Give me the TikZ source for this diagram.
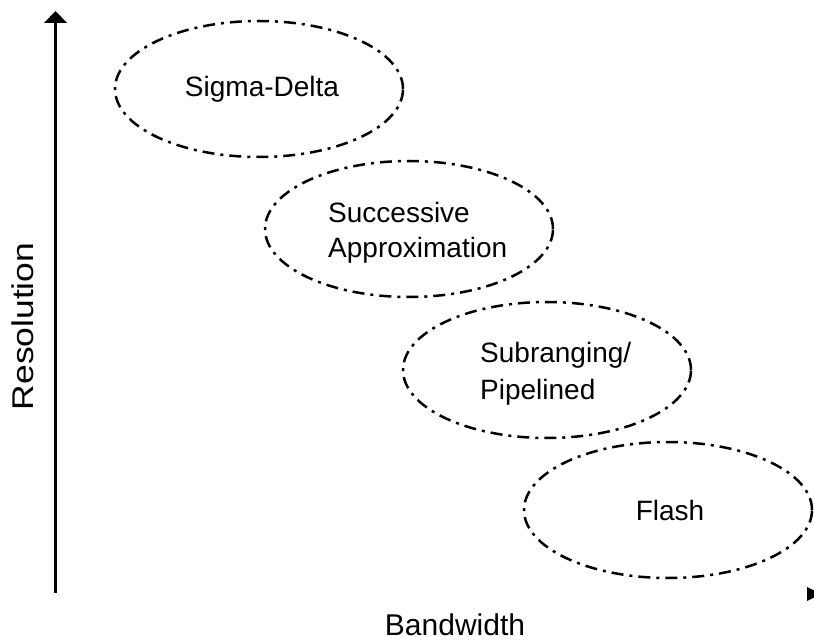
\documentclass[tikz,border=0pt]{standalone}
\usepackage{fontspec}
\setmainfont{Liberation Sans}
\usetikzlibrary{shapes.geometric,arrows.meta,calc}
\begin{document}
\begin{tikzpicture}[x=1pt,y=-1pt,
  adc/.style={ellipse, draw, line width=2.5pt,
    dash pattern=on 12pt off 6pt on 3pt off 6pt,
    minimum width=288pt, minimum height=136pt, inner sep=0pt},
  lbl/.style={font=\fontsize{28}{35}\selectfont, inner sep=0pt, align=left},
  axislbl/.style={font=\fontsize{30}{36}\selectfont, inner sep=0pt},
  axisline/.style={line width=3pt},
  axistip/.style={fill=black}]
\fill[white] (0,0) rectangle (814,644);
\useasboundingbox (0,0) rectangle (814,644);
\clip (0,0) rectangle (814,644);

% vertical axis with its flat triangular head
\coordinate (origin) at (55.5,593);
\coordinate (ytop) at (55.5,11);
\coordinate (ybase) at (55.5,23);
\draw[axisline] (origin) -- (ybase);
\fill[axistip] (ytop) -- ($(ybase)+(11.5,0)$) -- ($(ybase)+(-11.5,0)$) -- cycle;
% head of the horizontal axis at the right edge
\coordinate (xend) at (807,594);
\fill[axistip] (xend) ++(0,-7) -- ++(0,14) -- ++(14,-7) -- cycle;

\node[axislbl, rotate=90, anchor=base] (res) at (33,326.5)
  {\scalebox{1.18}[1]{Resolution}};
\node[axislbl, anchor=base] (bw) at (455,635) {Bandwidth};

% converter families
\node[adc] (sd)  at (259,89)  {};
\node[adc] (sar) at (409,229) {};
\node[adc] (pip) at (547,370) {};
\node[adc] (fl)  at (668,510) {};

\node[lbl, anchor=base] (sd-t) at (262,97) {Sigma-Delta};
\node[lbl, anchor=west] (sar-t) at (328,232.5) {Successive\\Approximation};
\node[lbl, anchor=west, font=\fontsize{28}{37}\selectfont] (pip-t) at (480,373.5) {Subranging/\\Pipelined};
\node[lbl, anchor=base] (fl-t) at (670,520) {Flash};
\end{tikzpicture}
\end{document}
